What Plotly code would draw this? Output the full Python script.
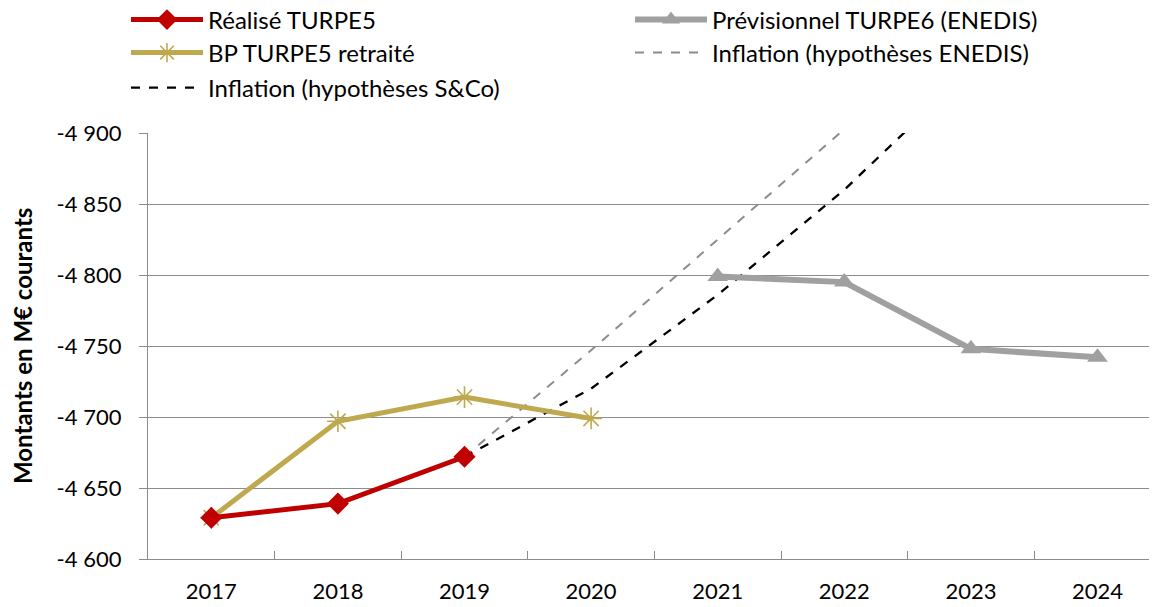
import plotly.graph_objects as go

years = ["2017", "2018", "2019", "2020", "2021", "2022", "2023", "2024"]
realise_turpe5 = [-4629, -4639, -4672, None, None, None, None, None]
bp_turpe5 = [-4629, -4697, -4714, -4699, None, None, None, None]
previsionnel_turpe6 = [None, None, None, None, -4799, -4795, -4748, -4742]
inflation_enedis = [None, None, -4672, -4747, -4825, -4902, -4980, -5058]
inflation_sco = [None, None, -4672, -4720, -4786, -4860, -4945, -5030]
y_ticks = [-4600, -4650, -4700, -4750, -4800, -4850, -4900]
y_tick_labels = ["-4 600", "-4 650", "-4 700", "-4 750", "-4 800", "-4 850", "-4 900"]
y_title = "Montants en M€ courants"

FONT = "Lato"
W, H = 1149, 599
L, R, T, B = 140, 0, 125, 48
PLOT_W = W - L - R

fig = go.Figure()

fig.add_trace(go.Scatter(x=years, y=inflation_enedis, mode="lines", name="Inflation (hypothèses ENEDIS)",
                         line=dict(color="#8c8c8c", width=2, dash="dash"), legend="legend4"))
fig.add_trace(go.Scatter(x=years, y=inflation_sco, mode="lines", name="Inflation (hypothèses S&Co)",
                         line=dict(color="#000000", width=2.3, dash="dash"), legend="legend5"))
fig.add_trace(go.Scatter(x=years, y=previsionnel_turpe6, mode="lines+markers", name="Prévisionnel TURPE6 (ENEDIS)",
                         line=dict(color="#a0a0a0", width=6),
                         marker=dict(symbol="triangle-up", size=18, color="#a0a0a0"), legend="legend2"))
fig.add_trace(go.Scatter(x=years, y=bp_turpe5, mode="lines+markers", name="BP TURPE5 retraité",
                         line=dict(color="#bfa94f", width=5),
                         marker=dict(symbol="asterisk-open", size=18, color="#bfa94f", line=dict(width=1.6, color="#bfa94f")),
                         legend="legend3"))
fig.add_trace(go.Scatter(x=years, y=realise_turpe5, mode="lines+markers", name="Réalisé TURPE5",
                         line=dict(color="#c00000", width=5),
                         marker=dict(symbol="diamond", size=17, color="#c00000"), legend="legend"))


def leg(xpx, ypx):
    return dict(orientation="v", xref="container", yref="container", x=xpx / W, xanchor="left",
                y=1 - ypx / H, yanchor="middle", itemwidth=72,
                font=dict(family=FONT, size=24, color="#000000"), bgcolor="rgba(0,0,0,0)")


fig.update_layout(
    width=W, height=H,
    margin=dict(l=L, r=R, t=T, b=B, autoexpand=False),
    paper_bgcolor="white", plot_bgcolor="white",
    font=dict(family=FONT, size=22, color="#000000"),
    legend=leg(118, 12),
    legend2=leg(622, 12),
    legend3=leg(118, 45),
    legend4=leg(622, 45),
    legend5=leg(118, 80),
    showlegend=True,
    annotations=[dict(text="<b>" + y_title + "</b>", textangle=-90, xref="paper", yref="paper",
                      x=(14 - L) / PLOT_W, y=0.5, xanchor="center", yanchor="middle", showarrow=False,
                      font=dict(family=FONT, size=24, color="#000000"))],
)

fig.update_xaxes(
    type="category", categoryorder="array", categoryarray=years,
    range=[-0.5, 7.47],
    showgrid=False, showline=True, linecolor="#8c8c8c", linewidth=1.3,
    ticks="inside", tickson="boundaries", ticklen=8, tickcolor="#8c8c8c", tickwidth=1.3,
    tickfont=dict(family=FONT, size=22, color="#000000"), ticklabelstandoff=12,
)
fig.update_yaxes(
    range=[-4600, -4900],
    tickvals=y_ticks, ticktext=y_tick_labels,
    showgrid=True, gridcolor="#8c8c8c", gridwidth=1.3,
    showline=True, linecolor="#8c8c8c", linewidth=1.3,
    ticks="outside", ticklen=8, tickcolor="#8c8c8c", tickwidth=1.3,
    tickfont=dict(family=FONT, size=22, color="#000000"), ticklabelstandoff=13,
    zeroline=False,
)

fig.write_html("out.html")
